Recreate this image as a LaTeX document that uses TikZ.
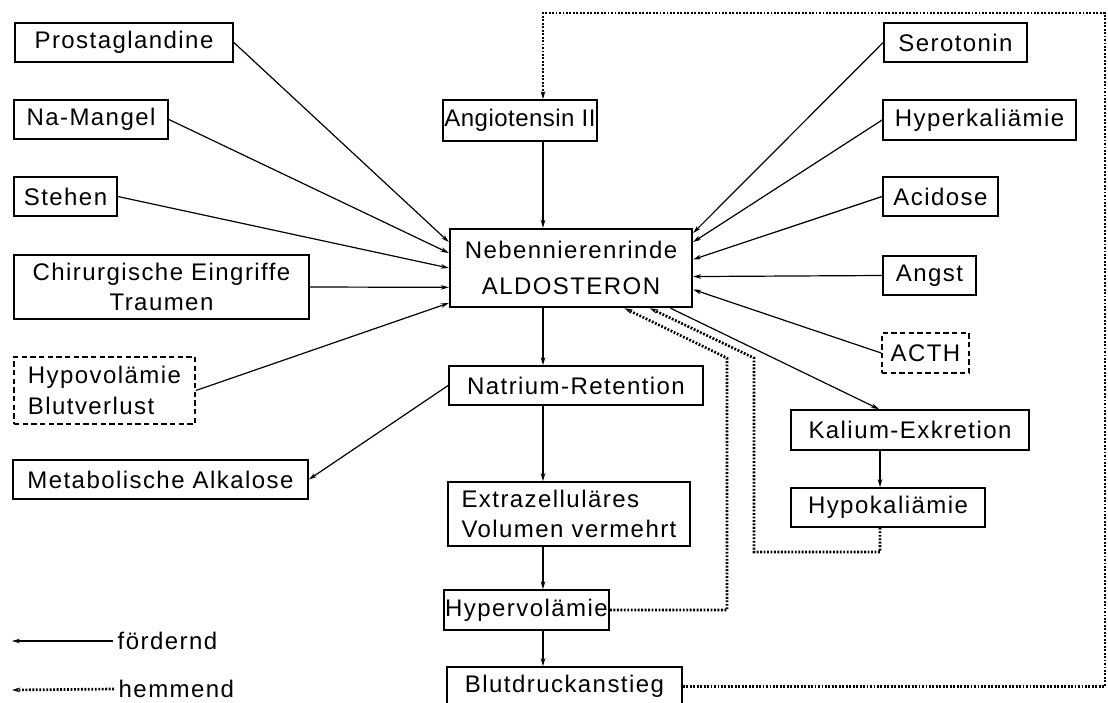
\documentclass[tikz,border=0pt]{standalone}
\usepackage{fontspec}
\setmainfont{Liberation Sans}[LetterSpace=6]
\usetikzlibrary{arrows.meta}

\begin{document}
\begin{tikzpicture}[x=0.75pt, y=-0.75pt,
  every node/.style={font=\fontsize{18}{23}\selectfont},
  box/.style={draw, line width=1.3pt, inner sep=1pt, align=center},
  dashbox/.style={box, dash pattern=on 4pt off 2.5pt},
  mainbox/.style={box, line width=1.8pt},
  >={Stealth[length=6pt, width=3.5pt]},
  foerdernd/.style={->, line width=0.9pt},
  hemmend/.style={->, line width=2pt, dash pattern=on 1.4pt off 1.2pt}]

\useasboundingbox (0,0) rectangle (1108,703);

\coordinate (axis) at (543,0);
\coordinate (kdrop) at (880,0);
\coordinate (ne) at (1105,13);
\coordinate (hvturn) at (727,358);
\coordinate (hkturn) at (754,358);
\coordinate (hklow) at (754,552);
\coordinate (lgf) at (12,641);
\coordinate (lgh) at (12,690);

% linke Seite
\node[box, minimum width=163.5pt, minimum height=29.25pt] (prost) at (124,42.5) {Prostaglandine};
\node[box, minimum width=115.5pt, minimum height=29.25pt] (namangel) at (91,119.5) {Na-Mangel};
\node[box, minimum width=77.25pt, minimum height=29.25pt] (stehen) at (65.5,196.5) {Stehen};
\node[box, minimum width=221.25pt, minimum height=48pt] (chir) at (161.5,287) {Chirurgische Eingriffe\\Traumen};
\node[dashbox, align=left, minimum width=135.75pt, minimum height=50.25pt] (hypovol) at (104.5,390.5) {Hypovolämie\\Blutverlust};
\node[box, minimum width=221.25pt, minimum height=29.25pt] (metalk) at (160.5,479.5) {Metabolische Alkalose};

% Mitte
\node[box, minimum width=109.5pt, minimum height=30.75pt] (angio) at (520,120.5) {\addfontfeature{LetterSpace=2}Angiotensin II};
\node[mainbox, minimum width=181.5pt, minimum height=58.5pt] (nnr) at (571,268) {Nebennierenrinde\\[4pt]ALDOSTERON};
\node[box, minimum width=190.5pt, minimum height=29.25pt] (natrium) at (576,385.5) {Natrium-Retention};
\node[box, align=left, minimum width=181.5pt, minimum height=48pt] (ezv) at (569,514) {Extrazelluläres\\Volumen vermehrt};
\node[box, minimum width=119.25pt, minimum height=30pt] (hypervol) at (526.5,610) {Hypervolämie};
\node[box, minimum width=176.25pt, minimum height=29.25pt] (blut) at (564.5,686.5) {Blutdruckanstieg};

% rechte Seite
\node[box, minimum width=107.25pt, minimum height=29.25pt] (serotonin) at (955.5,42.5) {Serotonin};
\node[box, minimum width=144.75pt, minimum height=30pt] (hyperkal) at (979.5,120) {Hyperkaliämie};
\node[box, minimum width=86.25pt, minimum height=29.25pt] (acidose) at (940.5,196.5) {Acidose};
\node[box, minimum width=69.75pt, minimum height=29.25pt] (angst) at (929.5,275.5) {Angst};
\node[dashbox, minimum width=65.25pt, minimum height=30pt] (acth) at (925.5,353) {ACTH};
\node[box, minimum width=178.5pt, minimum height=30pt] (kalium) at (910,430) {Kalium-Exkretion};
\node[box, minimum width=145.5pt, minimum height=29.25pt] (hypokal) at (888,507.5) {Hypokaliämie};

% Legende
\node[anchor=west] (lgfoerd) at (113,641) {fördernd};
\node[anchor=west] (lghemm) at (114,689) {hemmend};

% foerdernde Wirkungen
\draw[foerdernd] (prost.east) -- (nnr.168);
\draw[foerdernd] (namangel.east) -- (nnr.173);
\draw[foerdernd] (stehen.east) -- (nnr.180);
\draw[foerdernd] (chir.east) -- (nnr.189);
\draw[foerdernd] (hypovol.east) -- (nnr.196);
\draw[foerdernd] (serotonin.west) -- (nnr.16);
\draw[foerdernd] (hyperkal.west) -- (nnr.12);
\draw[foerdernd] (acidose.west) -- (nnr.4);
\draw[foerdernd] (angst.west) -- (nnr.356);
\draw[foerdernd] (acth.west) -- (nnr.350);
\draw[foerdernd] (natrium.west) -- (metalk.east);
\draw[foerdernd] (nnr.338) -- (kalium.146);
\draw[foerdernd] (kalium.south -| kdrop) -- (hypokal.north -| kdrop);

\draw[foerdernd] (angio.south -| axis) -- (nnr.north -| axis);
\draw[foerdernd] (nnr.south -| axis) -- (natrium.north -| axis);
\draw[foerdernd] (natrium.south -| axis) -- (ezv.north -| axis);
\draw[foerdernd] (ezv.south -| axis) -- (hypervol.north -| axis);
\draw[foerdernd] (hypervol.south -| axis) -- (blut.north -| axis);

% hemmende Rueckkopplung
\draw[hemmend] (hypervol.east) -| (hvturn) -- (nnr.323);
\draw[hemmend] (hypokal.south -| kdrop) |- (hklow) -- (hkturn) -- (nnr.333);
\draw[hemmend] (blut.east) -| (ne) -| (angio.north -| axis);

\draw[foerdernd] (lgfoerd.west) -- (lgf);
\draw[hemmend] (lghemm.west) -- (lgh);

\end{tikzpicture}
\end{document}
